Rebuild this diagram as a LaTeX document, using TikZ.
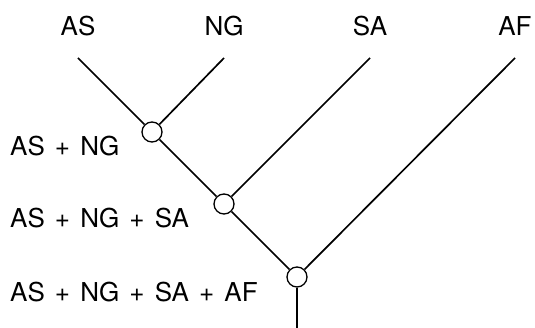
\documentclass[tikz,border=0pt]{standalone}
\usepackage{fontspec}
\setmainfont{TeX Gyre Heros}
\usetikzlibrary{positioning}
\newcommand\grouplabelfont{\fontsize{26}{30}\selectfont\spaceskip=0.39em\relax}

\begin{document}
\begin{tikzpicture}[x=1pt, y=-1pt,
  taxon/.style={anchor=base, inner sep=0pt, font=\fontsize{26}{30}\selectfont},
  group/.style={anchor=base west, inner sep=0pt, font=\grouplabelfont},
  junction/.style={draw, circle, fill=white, minimum size=20pt, inner sep=0pt, line width=1.3pt},
  branch/.style={line width=1.7pt},
]
  \useasboundingbox (0,0) rectangle (535,328);

  % taxa on top
  \node[taxon] (as) at (78,36) {AS};
  \node[taxon] (ng) at (224,36) {NG};
  \node[taxon] (sa) at (370,36) {SA};
  \node[taxon] (af) at (515,36) {AF};
  \coordinate (as-top) at (78,58);
  \coordinate (ng-top) at (224,58);
  \coordinate (sa-top) at (370,58);
  \coordinate (af-top) at (515,58);

  % junctions
  \node[junction] (j1) at (152,132) {};
  \node[junction] (j2) at (224,204) {};
  \node[junction] (j3) at (297,277) {};
  \coordinate (root) at (297,328);

  % group labels
  \node[group] (g1) at (10,156) {AS + NG};
  \node[group] (g2) at (10,228) {AS + NG + SA};
  \node[group] (g3) at (10,302) {AS + NG + SA + AF};

  \draw[branch] (as-top) -- (j1);
  \draw[branch] (ng-top) -- (j1);
  \draw[branch] (j1) -- (j2);
  \draw[branch] (sa-top) -- (j2);
  \draw[branch] (j2) -- (j3);
  \draw[branch] (af-top) -- (j3);
  \draw[branch] (j3) -- (root);
\end{tikzpicture}
\end{document}
